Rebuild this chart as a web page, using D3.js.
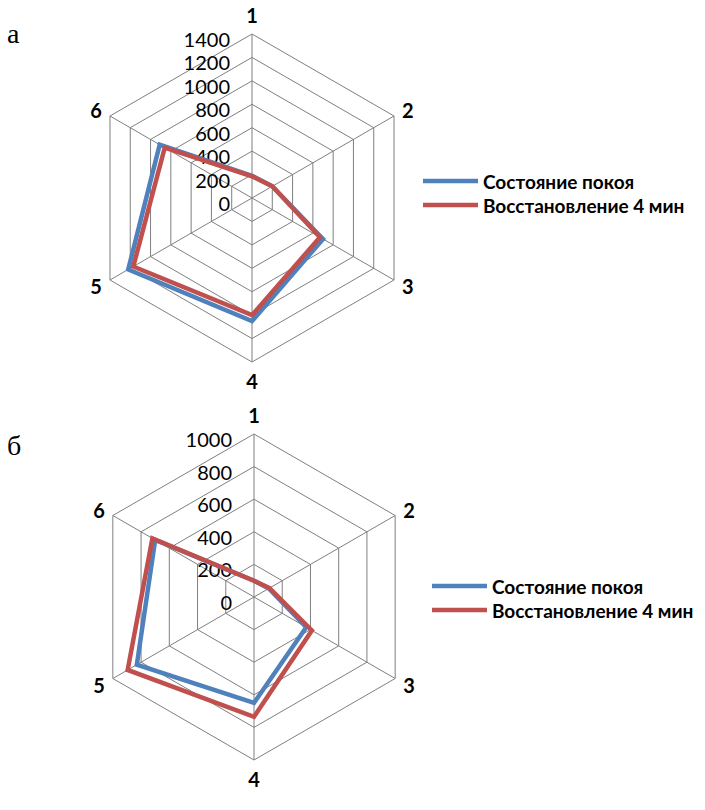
<!DOCTYPE html>
<html>
<head>
<meta charset="utf-8">
<script src="https://cdn.jsdelivr.net/npm/d3@7"></script>
<style>
  body { margin: 0; background: #fff; }
  svg { display: block; }
</style>
</head>
<body>
<div id="vis"></div>
<script>
var width = 705,
    height = 810;

// data
var axisLabels = ["1", "2", "3", "4", "5", "6"];
var seriesNames = ["Состояние покоя", "Восстановление 4 мин"];
var colors = ["#4F81BD", "#C0504D"];

var ticksA = [0, 200, 400, 600, 800, 1000, 1200, 1400];
var restA = [190, 200, 700, 1050, 1220, 910];
var recA  = [185, 200, 670, 1000, 1170, 860];

var ticksB = [0, 200, 400, 600, 800, 1000];
var restB = [100, 105, 370, 650, 830, 700];
var recB  = [100, 110, 410, 735, 895, 720];

var svg = d3.select('#vis').append('svg')
    .attr("width", width)
    .attr("height", height);

svg.append("rect").attr("width", width).attr("height", height).attr("fill", "#fff");

function drawRadar(cx, cy, R, ticks, series, letter, letterY, legendX, legendY) {
    var g = svg.append("g").attr("transform", "translate(" + cx + "," + cy + ")");
    var maxV = ticks[ticks.length - 1];
    var r = d3.scaleLinear().domain([0, maxV]).range([0, R]);
    var n = axisLabels.length;
    var angle = function(i) { return i * 2 * Math.PI / n; };

    var ring = d3.lineRadial()
        .angle(function(d, i) { return angle(i); })
        .curve(d3.curveLinearClosed);

    // grid hexagons
    g.selectAll("path.grid")
        .data(ticks.slice(1))
        .enter().append("path")
        .attr("class", "grid")
        .attr("d", function(t) { return ring.radius(r(t))(axisLabels); })
        .attr("fill", "none")
        .attr("stroke", "#7f7f7f")
        .attr("stroke-width", 1);

    // spokes
    g.selectAll("line.spoke")
        .data(axisLabels)
        .enter().append("line")
        .attr("class", "spoke")
        .attr("x1", 0).attr("y1", 0)
        .attr("x2", function(d, i) { return R * Math.sin(angle(i)); })
        .attr("y2", function(d, i) { return -R * Math.cos(angle(i)); })
        .attr("stroke", "#7f7f7f")
        .attr("stroke-width", 1);

    // tick labels
    g.selectAll("text.tick")
        .data(ticks)
        .enter().append("text")
        .attr("class", "tick")
        .attr("x", -22)
        .attr("y", function(t) { return -r(t) + 5; })
        .attr("text-anchor", "end")
        .attr("dominant-baseline", "central")
        .attr("font-family", "Lato, 'Open Sans', sans-serif")
        .attr("font-size", 20)
        .attr("fill", "#000")
        .text(function(t) { return t; });

    // series lines
    var line = d3.lineRadial()
        .angle(function(d, i) { return angle(i); })
        .radius(function(d) { return r(d); })
        .curve(d3.curveLinearClosed);

    g.selectAll("path.series")
        .data(series)
        .enter().append("path")
        .attr("class", "series")
        .attr("d", function(d) { return line(d); })
        .attr("fill", "none")
        .attr("stroke", function(d, i) { return colors[i]; })
        .attr("stroke-width", 4.5)
        .attr("stroke-linejoin", "miter");

    // axis labels
    g.selectAll("text.axis")
        .data(axisLabels)
        .enter().append("text")
        .attr("class", "axis")
        .attr("x", function(d, i) { return (R + 16) * Math.sin(angle(i)); })
        .attr("y", function(d, i) {
            var c = Math.cos(angle(i));
            return -(R + (Math.abs(c) > 0.9 ? 19 : 12)) * c;
        })
        .attr("text-anchor", "middle")
        .attr("dominant-baseline", "central")
        .attr("font-family", "Lato, 'Open Sans', sans-serif")
        .attr("font-weight", "bold")
        .attr("font-size", 20)
        .text(function(d) { return d; });

    // panel letter
    svg.append("text")
        .attr("x", 7)
        .attr("y", letterY)
        .attr("font-family", "'Liberation Serif', 'DejaVu Serif', serif")
        .attr("font-size", 28)
        .text(letter);

    // legend
    var lg = svg.append("g").attr("transform", "translate(" + legendX + "," + legendY + ")");
    var items = lg.selectAll("g.item")
        .data(seriesNames)
        .enter().append("g")
        .attr("class", "item")
        .attr("transform", function(d, i) { return "translate(0," + (i * 24) + ")"; });
    items.append("line")
        .attr("x1", 0).attr("x2", 55)
        .attr("y1", 0).attr("y2", 0)
        .attr("stroke", function(d, i) { return colors[i]; })
        .attr("stroke-width", 4.5);
    items.append("text")
        .attr("x", 60)
        .attr("y", 0)
        .attr("dominant-baseline", "central")
        .attr("font-family", "Lato, 'Open Sans', sans-serif")
        .attr("font-weight", "bold")
        .attr("font-size", 19)
        .text(function(d) { return d; });
}

drawRadar(252, 198, 164, ticksA, [restA, recA], "а", 43, 423, 181);
drawRadar(254, 597, 163, ticksB, [restB, recB], "б", 455, 432, 586);
</script>
</body>
</html>
